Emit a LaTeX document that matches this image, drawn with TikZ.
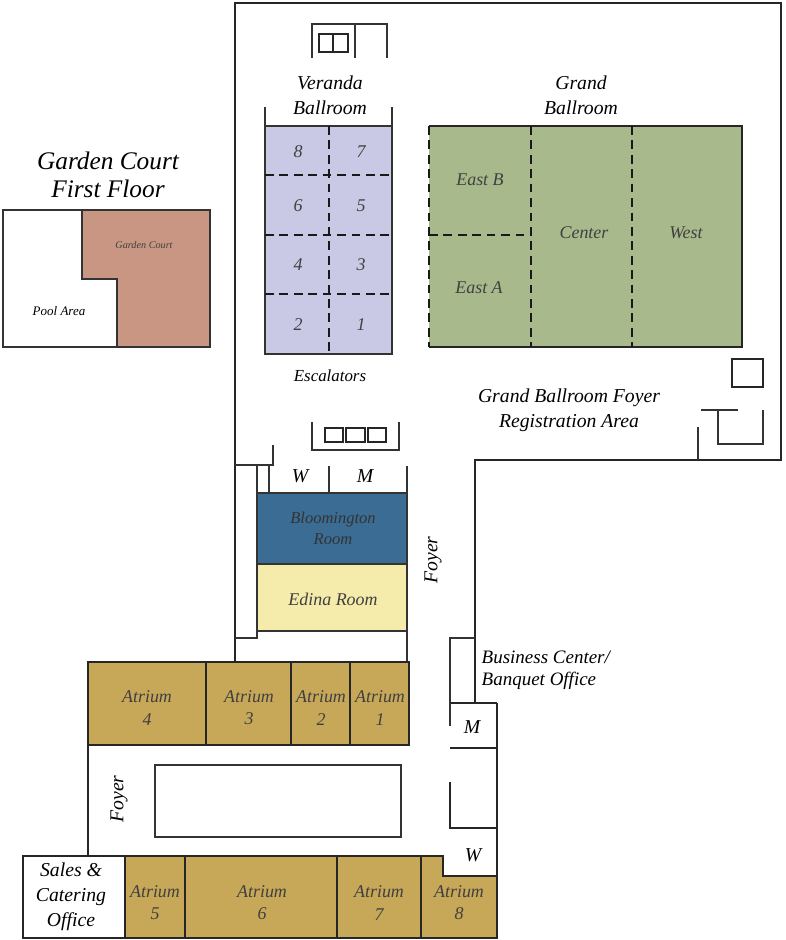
\documentclass[tikz,border=0pt]{standalone}
\usepackage{fontspec}
\setmainfont{Liberation Serif}
\tikzset{
  wall/.style={line width=0.72pt, draw=black!85},
  thinwall/.style={line width=0.58pt, draw=black!80},
  partition/.style={line width=0.75pt, draw=black!90, dash pattern=on 2.5pt off 1.6pt},
  roomlabel/.style={font=\fontsize{5.1}{6.3}\selectfont\itshape, align=center, text=black!75, inner sep=0pt},
  planlabel/.style={font=\fontsize{5.6}{7.1}\selectfont\itshape, align=center, inner sep=0pt},
  titlelabel/.style={font=\fontsize{7.2}{8.1}\selectfont\itshape, align=center, inner sep=0pt}
}
\begin{document}
\begin{tikzpicture}[x=0.01cm, y=-0.01cm]
\definecolor{lilac}{RGB}{201,201,229}
\definecolor{sage}{RGB}{168,186,140}
\definecolor{clay}{RGB}{200,150,130}
\definecolor{gold}{RGB}{199,168,88}
\definecolor{steel}{RGB}{58,108,148}
\definecolor{cream}{RGB}{245,235,170}

\useasboundingbox (0, 0) rectangle (786, 940);

% garden court
\draw[thinwall, fill=white] (3, 210) rectangle (210, 347);
\fill[clay] (82, 210) -- (210, 210) -- (210, 347) -- (117, 347) -- (117, 279) -- (82, 279) -- cycle;
\draw[thinwall] (82, 210) -- (82, 279) -- (117, 279) -- (117, 347);
\draw[thinwall] (3, 210) rectangle (210, 347);

% outer walls
\draw[wall, line width=0.8pt] (235, 662) -- (235, 3) -- (781, 3) -- (781, 460) -- (475, 460) -- (475, 703);
\draw[wall] (88, 856) -- (88, 662) -- (235, 662);
\draw[wall] (497, 703) -- (497, 938);

% veranda ballroom
\fill[lilac] (265, 126) rectangle (392, 354);
\draw[thinwall] (265, 107) -- (265, 354) -- (392, 354) -- (392, 107);
\draw[thinwall] (265, 126) -- (392, 126);
\draw[partition] (329, 126) -- (329, 354);
\draw[partition] (265, 175) -- (392, 175);
\draw[partition] (265, 235) -- (392, 235);
\draw[partition] (265, 294) -- (392, 294);

% grand ballroom
\fill[sage] (429, 126) rectangle (742, 347);
\draw[wall] (429, 126) -- (742, 126) -- (742, 347) -- (429, 347);
\draw[partition] (429, 126) -- (429, 347);
\draw[partition] (531, 126) -- (531, 347);
\draw[partition] (632, 126) -- (632, 347);
\draw[partition] (429, 235) -- (531, 235);

% escalators, top
\draw[thinwall] (312, 58) -- (312, 24) -- (387, 24) -- (387, 58);
\draw[thinwall] (355, 24) -- (355, 58);
\draw[wall] (319, 34) rectangle (333, 52);
\draw[wall] (333, 34) rectangle (348, 52);

% escalators, middle
\draw[thinwall] (312, 422) -- (312, 450) -- (399, 450) -- (399, 422);
\draw[wall] (325, 428) rectangle (343, 442);
\draw[wall] (346, 428) rectangle (365, 442);
\draw[wall] (368, 428) rectangle (386, 442);

% foyer corner
\draw[wall] (732, 359) rectangle (763, 387);
\draw[thinwall] (701, 410) -- (738, 410);
\draw[thinwall] (718, 410) -- (718, 444) -- (763, 444) -- (763, 410);
\draw[thinwall] (698, 427) -- (698, 460);

% meeting rooms
\draw[thinwall, fill=steel] (257, 493) rectangle (407, 564);
\draw[thinwall, fill=cream] (257, 564) rectangle (407, 631);
\draw[thinwall] (407, 466) -- (407, 662);
\draw[thinwall] (329, 466) -- (329, 493);
\draw[thinwall] (269, 466) -- (269, 493);
\draw[thinwall] (235, 465) -- (273, 465) -- (273, 445);
\draw[thinwall] (257, 465) -- (257, 638) -- (235, 638);

% upper atrium
\fill[gold] (88, 662) rectangle (409, 745);
\draw[wall] (88, 662) rectangle (409, 745);
\draw[wall] (206, 662) -- (206, 745);
\draw[wall] (291, 662) -- (291, 745);
\draw[wall] (350, 662) -- (350, 745);

% courtyard
\draw[thinwall] (155, 765) rectangle (401, 837);

% lower atrium
\fill[gold] (125, 856) -- (443, 856) -- (443, 876) -- (497, 876) -- (497, 938) -- (125, 938) -- cycle;
\draw[wall, line width=0.8pt] (23, 856) -- (443, 856) -- (443, 876) -- (497, 876) -- (497, 938) -- (23, 938) -- cycle;
\draw[wall] (125, 856) -- (125, 938);
\draw[wall] (185, 856) -- (185, 938);
\draw[wall] (337, 856) -- (337, 938);
\draw[wall] (421, 856) -- (421, 938);

% service rooms
\draw[thinwall] (475, 638) -- (450, 638) -- (450, 726);
\draw[wall] (450, 703) -- (497, 703);
\draw[wall] (450, 748) -- (497, 748);
\draw[wall] (450, 782) -- (450, 828) -- (497, 828);

\node[titlelabel] (gardentitle) at (108, 175) {Garden Court\\First Floor};
\node[roomlabel, font=\fontsize{2.9}{3.5}\selectfont\itshape] (gardenroom) at (144, 245) {Garden Court};
\node[planlabel, font=\fontsize{3.7}{4.5}\selectfont\itshape] (poolarea) at (59, 311) {Pool Area};

\node[planlabel] (verandatitle) at (330, 95) {Veranda\\Ballroom};
\node[planlabel] (grandtitle) at (581, 95) {Grand\\Ballroom};
\node[planlabel, font=\fontsize{4.8}{6}\selectfont\itshape] (escalators) at (330, 376) {Escalators};
\node[planlabel] (foyertitle) at (569, 410) {Grand Ballroom Foyer\\Registration Area};

\node[roomlabel] (veranda8) at (298, 152) {8};
\node[roomlabel] (veranda7) at (361, 152) {7};
\node[roomlabel] (veranda6) at (298, 206) {6};
\node[roomlabel] (veranda5) at (361, 206) {5};
\node[roomlabel] (veranda4) at (298, 265) {4};
\node[roomlabel] (veranda3) at (361, 265) {3};
\node[roomlabel] (veranda2) at (298, 325) {2};
\node[roomlabel] (veranda1) at (361, 325) {1};

\node[roomlabel] (eastb) at (480, 180) {East B};
\node[roomlabel] (easta) at (479, 288) {East A};
\node[roomlabel] (center) at (584, 233) {Center};
\node[roomlabel] (west) at (686, 233) {West};

\node[planlabel] (womenupper) at (300, 476) {W};
\node[planlabel] (menupper) at (365, 476) {M};
\node[roomlabel, text=black!80, font=\fontsize{4.7}{5.9}\selectfont\itshape] (bloomington) at (333, 528) {Bloomington\\Room};
\node[roomlabel] (edina) at (333, 599) {Edina Room};
\node[planlabel, rotate=90] (foyerupper) at (433, 560) {Foyer};
\node[planlabel, anchor=west, align=left, font=\fontsize{5.4}{6.3}\selectfont\itshape] (business) at (481, 670) {Business Center/\\Banquet Office};

\node[roomlabel] (atrium4) at (147, 708) {Atrium\\4};
\node[roomlabel] (atrium3) at (249, 708) {Atrium\\3};
\node[roomlabel] (atrium2) at (321, 708) {Atrium\\2};
\node[roomlabel] (atrium1) at (380, 708) {Atrium\\1};

\node[planlabel, rotate=90] (foyerlower) at (119, 799) {Foyer};
\node[planlabel] (menlower) at (472, 727) {M};
\node[planlabel] (womenlower) at (473, 855) {W};

\node[planlabel] (sales) at (71, 897) {Sales \&\\Catering\\Office};
\node[roomlabel] (atrium5) at (155, 903) {Atrium\\5};
\node[roomlabel] (atrium6) at (262, 903) {Atrium\\6};
\node[roomlabel] (atrium7) at (379, 903) {Atrium\\7};
\node[roomlabel] (atrium8) at (459, 903) {Atrium\\8};

\end{tikzpicture}
\end{document}
